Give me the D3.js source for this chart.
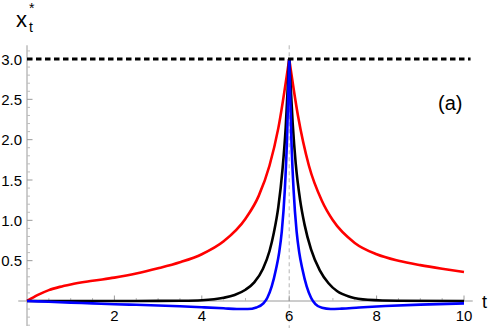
<!DOCTYPE html>
<meta charset="utf-8">
<head>
  <title>x_t* curves</title>
  <script src="https://d3js.org/d3.v7.min.js"></script>
  <style>
    body { margin: 0; background: #fff; }
    svg text { font-family: "Liberation Sans", Arial, sans-serif; fill: #000; }
  </style>
</head>
<body>
<svg id="chart" width="491" height="328"></svg>
<script>
// values, split at the peak t = 6
var redLeftT   = [0, 0.25, 0.5, 0.75, 1, 1.5, 2, 2.5, 3, 3.5, 4, 4.5, 5, 5.3, 5.55, 5.75, 6];
var redLeftX   = [0, 0.075, 0.135, 0.175, 0.205, 0.25, 0.29, 0.34, 0.405, 0.48, 0.58, 0.74, 1.02, 1.3, 1.68, 2.14, 3];
var redRightT  = [6, 6.2, 6.45, 6.75, 7, 7.5, 8, 8.5, 9, 9.5, 10];
var redRightX  = [3, 2.3, 1.68, 1.24, 1.0, 0.72, 0.58, 0.5, 0.445, 0.4, 0.36];

var blackLeftT  = [0, 2, 3, 3.5, 4, 4.5, 4.75, 5, 5.2, 5.4, 5.55, 5.65, 5.75, 5.85, 5.92, 6];
var blackLeftX  = [0, 0, 0.001, 0.003, 0.01, 0.04, 0.075, 0.14, 0.23, 0.4, 0.62, 0.85, 1.16, 1.65, 2.15, 3];
var blackRightT = [6, 6.08, 6.15, 6.25, 6.35, 6.5, 6.7, 6.9, 7.1, 7.4, 7.8, 8.5, 10];
var blackRightX = [3, 2.2, 1.7, 1.25, 0.95, 0.64, 0.38, 0.22, 0.12, 0.05, 0.015, 0.003, 0];

var blueLeftT  = [0, 0.5, 1, 1.5, 2, 2.5, 3, 3.5, 4, 4.5, 4.8, 5.05, 5.25, 5.41, 5.5, 5.6, 5.7, 5.77, 5.83, 5.9, 5.95, 6];
var blueLeftX  = [0, -0.01, -0.02, -0.03, -0.04, -0.047, -0.055, -0.065, -0.077, -0.09, -0.1, -0.1, -0.08, -0.03, 0.04, 0.18, 0.4, 0.6, 0.86, 1.38, 2.0, 3];
var blueRightT = [6, 6.05, 6.1, 6.17, 6.23, 6.3, 6.4, 6.5, 6.6, 6.75, 6.95, 7.2, 7.6, 8.2, 9, 10];
var blueRightX = [3, 2.0, 1.38, 0.86, 0.6, 0.4, 0.18, 0.04, -0.04, -0.085, -0.1, -0.095, -0.08, -0.062, -0.045, -0.03];

var xMajor = [2, 4, 6, 8, 10];
var yMajor = [0.5, 1.0, 1.5, 2.0, 2.5, 3.0];
var targetLevel = 3;
var peakT = 6;

var svg = d3.select("#chart");

var x = d3.scaleLinear().domain([0, 10]).range([27, 464]);
var y = d3.scaleLinear().domain([0, 3]).range([301, 59]);

// vertical guide at the peak
svg.append("line")
  .attr("x1", x(peakT)).attr("x2", x(peakT))
  .attr("y1", y(3.17)).attr("y2", y(-0.34))
  .attr("stroke", "#b4b4b4").attr("stroke-width", 1)
  .attr("stroke-dasharray", "4,3");

// axes
var axisColor = "#9a9a9a";
svg.append("line")
  .attr("x1", x(-0.2)).attr("x2", x(10.2))
  .attr("y1", y(0)).attr("y2", y(0))
  .attr("stroke", axisColor);
svg.append("line")
  .attr("x1", x(0)).attr("x2", x(0))
  .attr("y1", y(3.17)).attr("y2", y(-0.31))
  .attr("stroke", axisColor);

// x ticks (inside, pointing up)
var xMinor = d3.range(0.5, 10.01, 0.5).filter(function(d) { return xMajor.indexOf(d) < 0; });
svg.append("g").selectAll("line").data(xMinor).enter().append("line")
  .attr("x1", function(d) { return x(d); }).attr("x2", function(d) { return x(d); })
  .attr("y1", y(0)).attr("y2", y(0) - 3)
  .attr("stroke", "#bdbdbd");
svg.append("g").selectAll("line").data(xMajor).enter().append("line")
  .attr("x1", function(d) { return x(d); }).attr("x2", function(d) { return x(d); })
  .attr("y1", y(0)).attr("y2", y(0) - 5.5)
  .attr("stroke", axisColor);
svg.append("g").selectAll("text").data(xMajor).enter().append("text")
  .attr("x", function(d) { return x(d); })
  .attr("y", 321)
  .attr("text-anchor", "middle")
  .style("font-size", "15px")
  .text(function(d) { return d; });

// y ticks (inside, pointing right)
var yMinor = d3.range(-3, 32).map(function(i) { return i / 10; })
  .filter(function(d) { return Math.abs(d * 2 - Math.round(d * 2)) > 1e-6; });
svg.append("g").selectAll("line").data(yMinor).enter().append("line")
  .attr("x1", x(0)).attr("x2", x(0) + 3)
  .attr("y1", function(d) { return y(d); }).attr("y2", function(d) { return y(d); })
  .attr("stroke", "#bdbdbd");
svg.append("g").selectAll("line").data(yMajor).enter().append("line")
  .attr("x1", x(0)).attr("x2", x(0) + 5.5)
  .attr("y1", function(d) { return y(d); }).attr("y2", function(d) { return y(d); })
  .attr("stroke", axisColor);
svg.append("g").selectAll("text").data(yMajor).enter().append("text")
  .attr("x", 22)
  .attr("y", function(d) { return y(d) + 5.5; })
  .attr("text-anchor", "end")
  .style("font-size", "15px")
  .text(function(d) { return d.toFixed(1); });

// curves
var line = d3.line()
  .x(function(d) { return x(d[0]); })
  .y(function(d) { return y(d[1]); })
  .curve(d3.curveMonotoneX);

function branch(ts, vs) { return ts.map(function(t, i) { return [t, vs[i]]; }); }

var series = [
  { color: "#ff0000", parts: [branch(redLeftT, redLeftX), branch(redRightT, redRightX)] },
  { color: "#000000", parts: [branch(blackLeftT, blackLeftX), branch(blackRightT, blackRightX)] },
  { color: "#0000ff", parts: [branch(blueLeftT, blueLeftX), branch(blueRightT, blueRightX)] }
];

series.forEach(function(s) {
  s.parts.forEach(function(p) {
    svg.append("path")
      .datum(p)
      .attr("d", line)
      .attr("fill", "none")
      .attr("stroke", s.color)
      .attr("stroke-width", 2.6)
      .attr("stroke-linejoin", "round");
  });
});

// target level
svg.append("line")
  .attr("x1", x(0)).attr("x2", x(10.15))
  .attr("y1", y(targetLevel)).attr("y2", y(targetLevel))
  .attr("stroke", "#000").attr("stroke-width", 3)
  .attr("stroke-dasharray", "5.5,3.5");

// labels
var yl = svg.append("text").attr("x", 16).attr("y", 27);
yl.append("tspan").style("font-size", "22px").text("x");
yl.append("tspan").attr("x", 29).attr("y", 32).style("font-size", "14px").text("t");
yl.append("tspan").attr("x", 29).attr("y", 13).style("font-size", "14px").text("*");

svg.append("text").attr("x", 482).attr("y", 308).style("font-size", "18px").text("t");
svg.append("text").attr("x", 438).attr("y", 110).style("font-size", "20px").text("(a)");
</script>
</body>
